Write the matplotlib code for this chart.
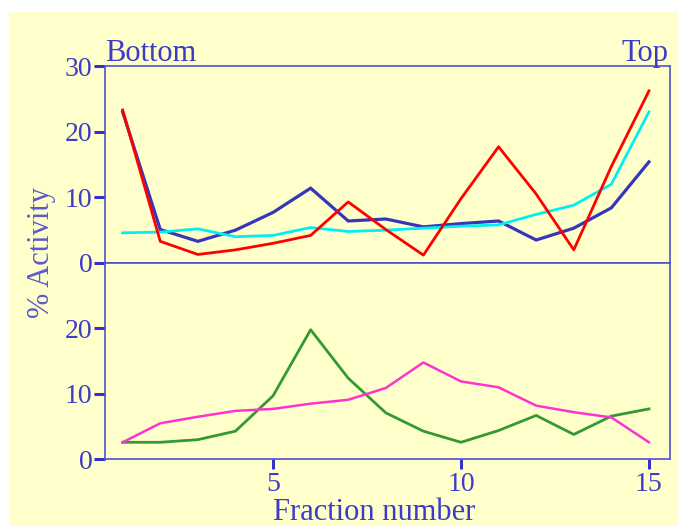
import matplotlib
matplotlib.use("Agg")
import matplotlib.pyplot as plt
from matplotlib.patches import Rectangle

fractions = list(range(1, 16))
blue = [23.0, 5.1, 3.3, 5.0, 7.7, 11.4, 6.4, 6.7, 5.5, 6.0, 6.4, 3.5, 5.3, 8.4, 15.4]
red = [23.3, 3.3, 1.3, 2.0, 3.0, 4.2, 9.3, 5.1, 1.2, 9.8, 17.7, 10.5, 2.0, 14.7, 26.2]
cyan = [4.6, 4.7, 5.2, 4.0, 4.2, 5.4, 4.8, 5.0, 5.3, 5.6, 5.8, 7.4, 8.8, 12.0, 23.0]
green = [2.6, 2.6, 3.0, 4.3, 9.7, 19.8, 12.4, 7.1, 4.3, 2.6, 4.4, 6.7, 3.8, 6.6, 7.7]
magenta = [2.6, 5.5, 6.5, 7.4, 7.7, 8.5, 9.1, 10.9, 14.8, 11.9, 11.0, 8.2, 7.2, 6.4, 2.6]

top_yticks = [0, 10, 20, 30]
bot_yticks = [0, 10, 20]
xticks = [5, 10, 15]

W, H = 678, 526
BG = '#ffffcc'
TXT = '#3c3cc8'
AX = '#5050d0'

plt.rcParams['font.family'] = ['Liberation Serif', 'DejaVu Serif']

fig = plt.figure(figsize=(W / 100, H / 100), dpi=100)
fig.patch.set_facecolor('white')
fig.patches.append(Rectangle((9 / W, 0), 1, 1 - 12 / H, transform=fig.transFigure,
                             facecolor=BG, edgecolor='none', zorder=-10))

L, R = 105 / W, 670 / W
T = 1 - 66 / H
M = 1 - 263 / H
B = 1 - 459.3 / H

ax1 = fig.add_axes([L, M, R - L, T - M])
ax2 = fig.add_axes([L, B, R - L, M - B], sharex=ax1)

for ax in (ax1, ax2):
    ax.set_facecolor(BG)
    for s in ax.spines.values():
        s.set_color(AX)
        s.set_linewidth(1.2)
    ax.tick_params(axis='y', direction='out', length=8, width=2.2, color='#3333cc',
                   labelsize=20, labelcolor=TXT, pad=1)
    ax.set_ylim(0, 30)

ax1.plot(fractions, blue, color='#3636bb', lw=2.3, solid_joinstyle='miter')
ax1.plot(fractions, cyan, color='#00f0f0', lw=2.0)
ax1.plot(fractions, red, color='#ff0000', lw=2.0)
ax2.plot(fractions, green, color='#339933', lw=2.0)
ax2.plot(fractions, magenta, color='#ff33cc', lw=1.8)

ax1.set_yticks(top_yticks)
ax2.set_yticks(bot_yticks)
ax1.set_xlim(0.53, 15.56)
ax2.set_xticks(xticks)
ax1.tick_params(axis='x', bottom=False, labelbottom=False)
ax2.tick_params(axis='x', direction='out', length=7, width=2.2, color='#3333cc',
                labelsize=20, labelcolor=TXT, pad=2)

def px(x, y):
    return x / W, 1 - y / H

fig.text(*px(105, 61), 'Bottom', fontsize=22, color=TXT, ha='left', va='baseline')
fig.text(*px(668, 61), 'Top', fontsize=22, color=TXT, ha='right', va='baseline')
fig.text(*px(374, 512), 'Fraction number', fontsize=22, color=TXT, ha='center', va='center')
fig.text(*px(42, 253), '% Activity', fontsize=22, color='#5a5acc', ha='center', va='center',
         rotation=90)

fig.savefig('out.png', dpi=100, facecolor=fig.get_facecolor())
